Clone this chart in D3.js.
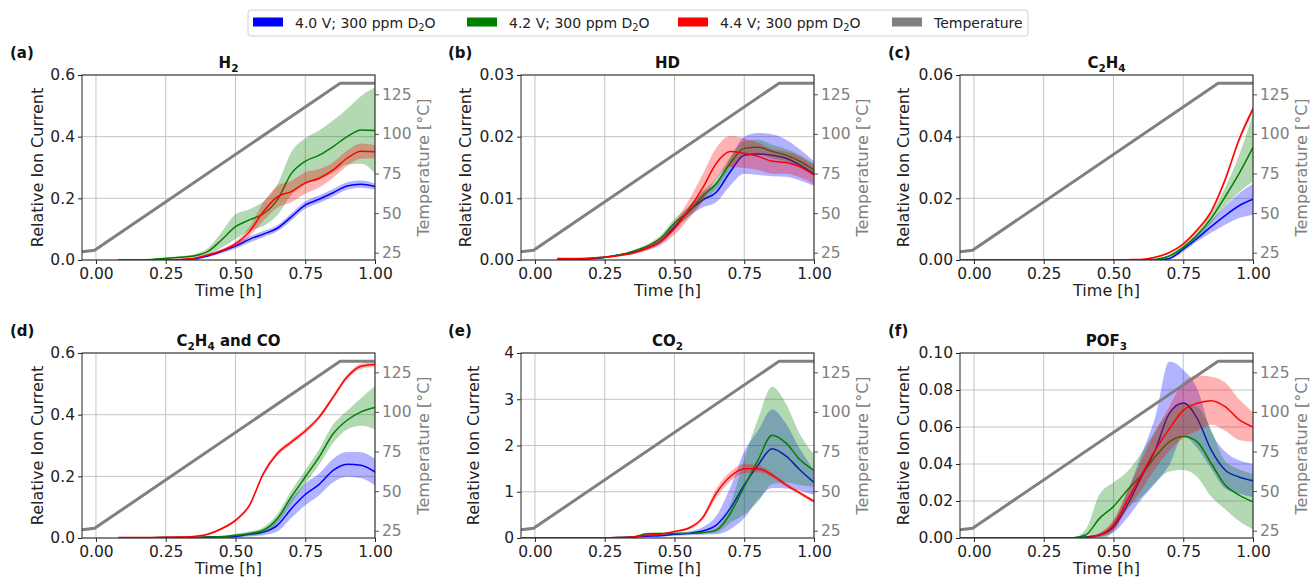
<!DOCTYPE html>
<html>
<head>
<meta charset="utf-8">
<script src="https://cdn.jsdelivr.net/npm/d3@7"></script>
<style>
  body { margin: 0; background: #fff; }
  svg { font-family: "DejaVu Sans", sans-serif; }
</style>
</head>
<body>
<div class="canvas"></div>
<script>
// ---- data ----

// common time grid [h] for the ion current traces
const tGrid = [-0.05, 0.08, 0.2, 0.3, 0.35, 0.4, 0.45, 0.5, 0.55, 0.6, 0.65, 0.7, 0.75, 0.8, 0.85, 0.9, 0.95, 1.0];
const xTicks = [0, 0.25, 0.5, 0.75, 1.0];
const tempTicks = [25, 50, 75, 100, 125];

// temperature ramp
const tempTime = [-0.05, -0.005, 0.875, 1.0];
const tempValue = [25.6, 26.5, 132, 132];

const seriesNames = ["4.0 V; 300 ppm D_2O", "4.2 V; 300 ppm D_2O", "4.4 V; 300 ppm D_2O"];
const seriesColors = ["blue", "green", "red"];

// (a) H2
const h2Blue    = [null, 0, 0, 0.001, 0.003, 0.013, 0.028, 0.045, 0.067, 0.084, 0.103, 0.14, 0.178, 0.197, 0.218, 0.24, 0.246, 0.238];
const h2BlueSd  = [null, 0, 0, 0.001, 0.002, 0.004, 0.006, 0.008, 0.01, 0.01, 0.01, 0.012, 0.012, 0.012, 0.012, 0.012, 0.012, 0.01];
const h2Green   = [null, 0, 0.002, 0.009, 0.013, 0.027, 0.065, 0.108, 0.13, 0.15, 0.195, 0.28, 0.32, 0.34, 0.368, 0.40, 0.422, 0.42];
const h2GreenSd = [null, 0, 0.001, 0.003, 0.006, 0.01, 0.025, 0.04, 0.035, 0.04, 0.05, 0.07, 0.075, 0.08, 0.085, 0.09, 0.11, 0.14];
const h2Red     = [null, 0.001, 0.001, 0.002, 0.005, 0.016, 0.03, 0.052, 0.092, 0.157, 0.205, 0.222, 0.25, 0.265, 0.292, 0.33, 0.353, 0.351];
const h2RedSd   = [null, 0.001, 0.001, 0.001, 0.002, 0.003, 0.005, 0.008, 0.015, 0.03, 0.035, 0.035, 0.035, 0.03, 0.025, 0.025, 0.025, 0.022];

// (b) HD
const hdBlue    = [null, 0.0001, 0.0002, 0.0008, 0.0012, 0.0019, 0.003, 0.0054, 0.0078, 0.0097, 0.011, 0.0143, 0.017, 0.0172, 0.017, 0.0165, 0.0154, 0.014];
const hdBlueSd  = [null, 0, 0.0001, 0.0001, 0.0002, 0.0003, 0.0004, 0.0006, 0.0008, 0.0012, 0.0016, 0.0022, 0.003, 0.0034, 0.0034, 0.003, 0.0025, 0.002];
const hdGreen   = [null, 0.0001, 0.0003, 0.0008, 0.0014, 0.0022, 0.0035, 0.006, 0.0078, 0.0103, 0.0124, 0.0157, 0.0181, 0.0183, 0.0176, 0.017, 0.016, 0.0146];
const hdGreenSd = [null, 0, 0.0001, 0.0001, 0.0002, 0.0003, 0.0005, 0.0007, 0.0008, 0.0008, 0.0009, 0.001, 0.0012, 0.0012, 0.0011, 0.001, 0.001, 0.001];
const hdRed     = [null, 0.0002, 0.0003, 0.0007, 0.0011, 0.0019, 0.003, 0.0051, 0.0081, 0.0116, 0.0157, 0.0176, 0.0173, 0.0168, 0.016, 0.0158, 0.0151, 0.0138];
const hdRedSd   = [null, 0.0003, 0.0001, 0.0001, 0.0002, 0.0004, 0.0006, 0.001, 0.0015, 0.0022, 0.0025, 0.0025, 0.0024, 0.0022, 0.002, 0.0018, 0.0017, 0.0015];

// (c) C2H4
const c2h4Blue    = [0, 0, 0, 0, 0, 0, 0, 0, 0, 0, 0, 0.0005, 0.0035, 0.007, 0.0108, 0.0144, 0.0176, 0.0197];
const c2h4BlueSd  = [0, 0, 0, 0, 0, 0, 0, 0, 0, 0, 0, 0.0003, 0.0008, 0.001, 0.002, 0.003, 0.004, 0.005];
const c2h4Green   = [0, 0, 0, 0, 0, 0, 0, 0, 0, 0, 0.0002, 0.0013, 0.0041, 0.0081, 0.0135, 0.0205, 0.028, 0.0365];
const c2h4GreenSd = [0, 0, 0, 0, 0, 0, 0, 0, 0, 0, 0.0001, 0.0004, 0.0008, 0.001, 0.0015, 0.003, 0.006, 0.011];
const c2h4Red     = [0, 0, 0, 0, 0, 0, 0, 0, 0.0001, 0.0002, 0.0009, 0.0024, 0.0052, 0.0097, 0.0157, 0.026, 0.039, 0.049];
const c2h4RedSd   = [0, 0, 0, 0, 0, 0, 0, 0, 0.0001, 0.0002, 0.0003, 0.0004, 0.0005, 0.0006, 0.0008, 0.001, 0.001, 0.001];

// (d) C2H4 and CO
const coBlue    = [null, 0, 0.001, 0.002, 0.002, 0.003, 0.004, 0.005, 0.012, 0.019, 0.041, 0.095, 0.141, 0.174, 0.219, 0.239, 0.236, 0.214];
const coBlueSd  = [null, 0, 0, 0.001, 0.001, 0.002, 0.003, 0.004, 0.007, 0.01, 0.02, 0.03, 0.035, 0.035, 0.038, 0.04, 0.042, 0.043];
const coGreen   = [null, 0, 0.001, 0.002, 0.002, 0.003, 0.004, 0.009, 0.014, 0.025, 0.063, 0.133, 0.198, 0.263, 0.338, 0.382, 0.409, 0.423];
const coGreenSd = [null, 0, 0, 0.001, 0.001, 0.002, 0.003, 0.005, 0.007, 0.01, 0.015, 0.02, 0.022, 0.025, 0.03, 0.03, 0.045, 0.07];
const coRed     = [null, 0.002, 0.002, 0.003, 0.005, 0.012, 0.03, 0.057, 0.106, 0.209, 0.274, 0.311, 0.347, 0.392, 0.457, 0.522, 0.557, 0.563];
const coRedSd   = [null, 0.001, 0.001, 0.002, 0.002, 0.003, 0.004, 0.005, 0.006, 0.007, 0.008, 0.008, 0.008, 0.008, 0.008, 0.008, 0.008, 0.008];

// (e) CO2
const co2Blue    = [0, 0, 0, 0.01, 0.02, 0.04, 0.05, 0.08, 0.1, 0.15, 0.28, 0.64, 1.15, 1.58, 1.93, 1.77, 1.47, 1.2];
const co2BlueSd  = [0, 0, 0, 0, 0.01, 0.01, 0.02, 0.03, 0.04, 0.08, 0.2, 0.45, 0.72, 0.75, 0.85, 0.7, 0.45, 0.27];
const co2Green   = [0, 0, 0, 0.01, 0.02, 0.09, 0.1, 0.1, 0.1, 0.115, 0.17, 0.53, 1.11, 1.69, 2.22, 2.05, 1.69, 1.46];
const co2GreenSd = [0, 0, 0, 0, 0.01, 0.02, 0.02, 0.02, 0.02, 0.02, 0.05, 0.2, 0.6, 0.9, 1.05, 0.85, 0.55, 0.35];
const co2Red     = [0, 0, 0, 0.01, 0.02, 0.06, 0.08, 0.14, 0.21, 0.43, 0.97, 1.33, 1.5, 1.5, 1.36, 1.15, 0.97, 0.79];
const co2RedSd   = [0, 0, 0, 0, 0.01, 0.02, 0.02, 0.02, 0.03, 0.05, 0.1, 0.1, 0.1, 0.08, 0.05, 0.04, 0.04, 0.04];

// (f) POF3
const pofBlue    = [0, 0, 0, 0, 0, 0.0005, 0.0016, 0.006, 0.018, 0.033, 0.0476, 0.0674, 0.073, 0.0647, 0.0476, 0.0368, 0.033, 0.031];
const pofBlueSd  = [0, 0, 0, 0, 0, 0.0003, 0.001, 0.003, 0.007, 0.012, 0.018, 0.028, 0.018, 0.016, 0.01, 0.01, 0.009, 0.009];
const pofGreen   = [0, 0, 0, 0, 0, 0.0016, 0.0106, 0.017, 0.026, 0.034, 0.044, 0.052, 0.0548, 0.052, 0.0404, 0.0286, 0.0232, 0.0196];
const pofGreenSd = [0, 0, 0, 0, 0, 0.003, 0.013, 0.013, 0.01, 0.012, 0.014, 0.016, 0.018, 0.019, 0.018, 0.013, 0.014, 0.015];
const pofRed     = [0, 0, 0, 0, 0, 0.0002, 0.0016, 0.007, 0.0205, 0.034, 0.0476, 0.059, 0.069, 0.0728, 0.0742, 0.071, 0.064, 0.06];
const pofRedSd   = [0, 0, 0, 0, 0, 0.0002, 0.001, 0.003, 0.005, 0.008, 0.01, 0.012, 0.015, 0.015, 0.013, 0.013, 0.011, 0.008];

const panels = [
  {tag: "(a)", title: "H_2",          yMax: 0.6,  yTicks: [0, 0.2, 0.4, 0.6],        fmt: ".1f", mean: [h2Blue, h2Green, h2Red],       sd: [h2BlueSd, h2GreenSd, h2RedSd]},
  {tag: "(b)", title: "HD",           yMax: 0.03, yTicks: [0, 0.01, 0.02, 0.03],     fmt: ".2f", mean: [hdBlue, hdGreen, hdRed],       sd: [hdBlueSd, hdGreenSd, hdRedSd]},
  {tag: "(c)", title: "C_2H_4",       yMax: 0.06, yTicks: [0, 0.02, 0.04, 0.06],     fmt: ".2f", mean: [c2h4Blue, c2h4Green, c2h4Red], sd: [c2h4BlueSd, c2h4GreenSd, c2h4RedSd]},
  {tag: "(d)", title: "C_2H_4 and CO", yMax: 0.6, yTicks: [0, 0.2, 0.4, 0.6],        fmt: ".1f", mean: [coBlue, coGreen, coRed],       sd: [coBlueSd, coGreenSd, coRedSd]},
  {tag: "(e)", title: "CO_2",         yMax: 4,    yTicks: [0, 1, 2, 3, 4],           fmt: "d",   mean: [co2Blue, co2Green, co2Red],    sd: [co2BlueSd, co2GreenSd, co2RedSd]},
  {tag: "(f)", title: "POF_3",        yMax: 0.1,  yTicks: [0, 0.02, 0.04, 0.06, 0.08, 0.1], fmt: ".2f", mean: [pofBlue, pofGreen, pofRed], sd: [pofBlueSd, pofGreenSd, pofRedSd]}
];

// ---- layout ----
const W = 1310, H = 581;
const colX = [82, 521, 960];
const rowY = [75, 353];
const plotW = 293, plotH = 185;
const tagX = [10, 448, 888];
const yLabelGap = [45, 56, 57, 45, 48, 57];
const tempDomain = [20.4, 137.2];
const FONT = "DejaVu Sans, sans-serif";

const svg = d3.select(".canvas")
  .append("svg")
    .attr("width", W)
    .attr("height", H);

// text with "_2" style subscripts
function richText(sel, str, subShift) {
  const parts = str.split(/_(\d)/);
  parts.forEach((p, i) => {
    if (p === "") return;
    if (i % 2 === 1) {
      sel.append("tspan").attr("font-size", "70%").attr("dy", subShift).text(p);
    } else {
      const ts = sel.append("tspan").text(p);
      if (i > 0) ts.attr("dy", -subShift);
    }
  });
}

panels.forEach((p, i) => {
  const col = i % 3, row = Math.floor(i / 3);
  const g = svg.append("g").attr("transform", `translate(${colX[col]},${rowY[row]})`);

  const x = d3.scaleLinear().domain([-0.05, 1]).range([0, plotW]);
  const y = d3.scaleLinear().domain([0, p.yMax]).range([plotH, 0]);
  const yT = d3.scaleLinear().domain(tempDomain).range([plotH, 0]);

  // grid
  g.append("g").selectAll("line").data(xTicks).join("line")
    .attr("x1", d => x(d)).attr("x2", d => x(d))
    .attr("y1", 0).attr("y2", plotH)
    .attr("stroke", "#c4c4c4").attr("stroke-width", 1);
  g.append("g").selectAll("line").data(p.yTicks).join("line")
    .attr("x1", 0).attr("x2", plotW)
    .attr("y1", d => y(d)).attr("y2", d => y(d))
    .attr("stroke", "#c4c4c4").attr("stroke-width", 1);

  const clipId = "clip" + i;
  g.append("clipPath").attr("id", clipId)
    .append("rect").attr("width", plotW).attr("height", plotH);
  const plot = g.append("g").attr("clip-path", `url(#${clipId})`);

  const area = d3.area().curve(d3.curveMonotoneX)
    .x(d => x(d.t)).y0(d => y(d.m - d.s)).y1(d => y(d.m + d.s));
  const line = d3.line().curve(d3.curveMonotoneX)
    .x(d => x(d.t)).y(d => y(d.m));

  p.mean.forEach((m, k) => {
    const rows = tGrid.map((t, j) => ({t: t, m: m[j], s: p.sd[k][j]}))
      .filter(d => d.m !== null);
    plot.append("path").datum(rows)
      .attr("fill", seriesColors[k]).attr("fill-opacity", 0.3)
      .attr("d", area);
    plot.append("path").datum(rows)
      .attr("fill", "none").attr("stroke", seriesColors[k]).attr("stroke-width", 1.5)
      .attr("d", line);
  });

  // temperature on twin axis
  const temp = tempTime.map((t, j) => ({t: t, v: tempValue[j]}));
  plot.append("path").datum(temp)
    .attr("fill", "none").attr("stroke", "gray").attr("stroke-width", 3)
    .attr("d", d3.line().x(d => x(d.t)).y(d => yT(d.v)));

  // axes
  const xa = g.append("g").attr("transform", `translate(0,${plotH})`)
    .call(d3.axisBottom(x).tickValues(xTicks).tickFormat(d3.format(".2f")).tickSize(4).tickPadding(4));
  const ya = g.append("g")
    .call(d3.axisLeft(y).tickValues(p.yTicks).tickFormat(d3.format(p.fmt)).tickSize(4).tickPadding(3));
  const ta = g.append("g").attr("transform", `translate(${plotW},0)`)
    .call(d3.axisRight(yT).tickValues(tempTicks).tickSize(4).tickPadding(3));
  [xa, ya, ta].forEach(a => {
    a.attr("font-size", 15.5).attr("font-family", FONT);
    a.select(".domain").remove();
    a.selectAll(".tick line").attr("stroke", "#222");
    a.selectAll(".tick text").attr("fill", "#222");
  });
  ta.selectAll(".tick text").attr("fill", "gray");
  ta.selectAll(".tick line").attr("stroke", "#555");

  // frame
  g.append("rect").attr("width", plotW).attr("height", plotH)
    .attr("fill", "none").attr("stroke", "#262626").attr("stroke-width", 1);

  // labels
  g.append("text")
    .attr("x", plotW / 2).attr("y", plotH + 36)
    .attr("text-anchor", "middle").attr("font-size", 16).attr("fill", "#222")
    .text("Time [h]");
  g.append("text")
    .attr("transform", `translate(${-yLabelGap[i]},${plotH / 2}) rotate(-90)`)
    .attr("dy", "0.35em")
    .attr("text-anchor", "middle").attr("font-size", 16).attr("fill", "#222")
    .text("Relative Ion Current");
  g.append("text")
    .attr("transform", `translate(${plotW + 48},${plotH / 2}) rotate(-90)`)
    .attr("dy", "0.35em")
    .attr("text-anchor", "middle").attr("font-size", 16).attr("fill", "gray")
    .text("Temperature [°C]");

  const title = g.append("text")
    .attr("x", plotW / 2).attr("y", -7)
    .attr("text-anchor", "middle").attr("font-size", 15).attr("font-weight", "bold").attr("fill", "#111");
  richText(title, p.title, 4);

  svg.append("text")
    .attr("x", tagX[col]).attr("y", rowY[row] - 17)
    .attr("font-size", 15).attr("font-weight", "bold").attr("fill", "#111")
    .text(p.tag);
});

// legend
const legend = svg.append("g");
legend.append("rect")
  .attr("x", 248).attr("y", 10).attr("width", 780).attr("height", 26)
  .attr("rx", 3).attr("fill", "#fff").attr("stroke", "#d0d0d0");
const legendNames = seriesNames.concat(["Temperature"]);
const legendColors = seriesColors.concat(["gray"]);
const patchX = [253, 467, 678, 892];
legendNames.forEach((name, k) => {
  legend.append("rect")
    .attr("x", patchX[k]).attr("y", 17.5).attr("width", 30).attr("height", 9)
    .attr("fill", legendColors[k]);
  const txt = legend.append("text")
    .attr("x", patchX[k] + 42).attr("y", 27.5)
    .attr("font-size", 14).attr("fill", "#222");
  richText(txt, name, 3);
});
</script>
</body>
</html>
